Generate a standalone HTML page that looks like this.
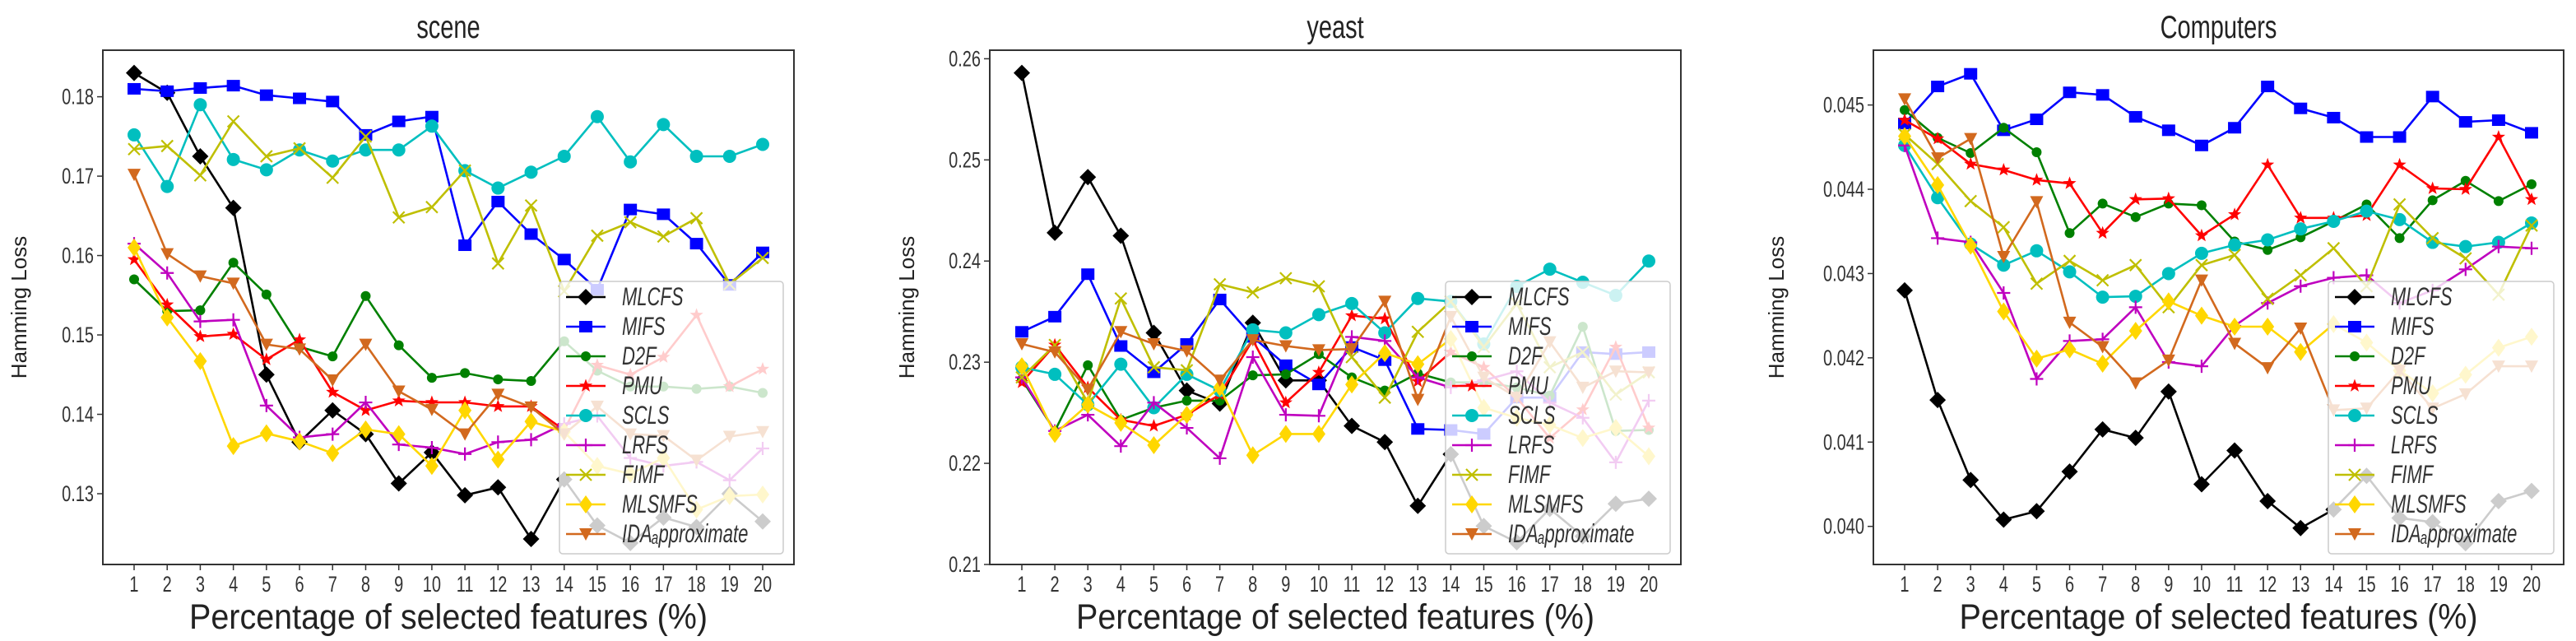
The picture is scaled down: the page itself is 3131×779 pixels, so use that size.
<!DOCTYPE html>
<html><head><meta charset="utf-8"><style>
html,body{margin:0;padding:0;background:#fff;}
svg{display:block;font-family:"Liberation Sans","DejaVu Sans",sans-serif;}
</style></head><body>
<svg id="fig" width="3131" height="779" viewBox="0 0 3131 779" xmlns="http://www.w3.org/2000/svg"></svg>
<script>
const xCategories = [1,2,3,4,5,6,7,8,9,10,11,12,13,14,15,16,17,18,19,20];
const seriesNames = ["MLCFS","MIFS","D2F","PMU","SCLS","LRFS","FIMF","MLSMFS","IDA\u2090pproximate"];
const panelTitles = ["scene","yeast","Computers"];
const sceneTicks = [0.13,0.14,0.15,0.16,0.17,0.18];
const sceneTickLabels = ["0.13","0.14","0.15","0.16","0.17","0.18"];
const yeastTicks = [0.21,0.22,0.23,0.24,0.25,0.26];
const yeastTickLabels = ["0.21","0.22","0.23","0.24","0.25","0.26"];
const compTicks = [0.040,0.041,0.042,0.043,0.044,0.045];
const compTickLabels = ["0.040","0.041","0.042","0.043","0.044","0.045"];

const sceneMLCFS = [0.183,0.1805,0.1725,0.166,0.145,0.1365,0.1405,0.1375,0.1313,0.1352,0.1298,0.1308,0.1243,0.1318,0.126,0.1238,0.127,0.1258,0.130,0.1265];
const sceneMIFS = [0.181,0.1807,0.1811,0.1814,0.1802,0.1798,0.1794,0.1752,0.1769,0.1775,0.1613,0.1668,0.1627,0.1595,0.1557,0.1658,0.1652,0.1615,0.1563,0.1604];
const sceneD2F = [0.157,0.153,0.1531,0.1591,0.1551,0.1485,0.1473,0.1549,0.1487,0.1446,0.1452,0.1444,0.1442,0.1492,0.1455,0.1435,0.1435,0.1432,0.1435,0.1427];
const scenePMU = [0.1595,0.1538,0.1498,0.1501,0.1469,0.1494,0.1428,0.1405,0.1417,0.1415,0.1415,0.141,0.141,0.138,0.1462,0.145,0.1472,0.1525,0.1435,0.1457];
const sceneSCLS = [0.1752,0.1687,0.179,0.1721,0.1708,0.1733,0.1719,0.1733,0.1733,0.1763,0.1707,0.1685,0.1705,0.1725,0.1775,0.1718,0.1765,0.1725,0.1725,0.174];
const sceneLRFS = [0.1615,0.1578,0.1517,0.1519,0.1411,0.1371,0.1375,0.1415,0.1362,0.1358,0.135,0.1365,0.1368,0.1388,0.1398,0.1345,0.1335,0.134,0.1317,0.1357];
const sceneFIMF = [0.1734,0.1738,0.1701,0.1769,0.1725,0.1735,0.1698,0.175,0.1648,0.1661,0.1707,0.159,0.1663,0.1555,0.1625,0.1642,0.1624,0.1647,0.1564,0.1597];
const sceneMLSMFS = [0.161,0.1522,0.1467,0.136,0.1376,0.1366,0.1351,0.1381,0.1375,0.1335,0.1405,0.1343,0.1391,0.1378,0.1335,0.1325,0.1345,0.128,0.1297,0.1299];
const sceneIDA = [0.1702,0.1602,0.1574,0.1565,0.1488,0.1482,0.1443,0.1488,0.1429,0.1406,0.1375,0.1425,0.1409,0.1375,0.141,0.1375,0.1373,0.1342,0.1372,0.1378];

const yeastMLCFS = [0.2586,0.2428,0.2483,0.2425,0.2329,0.2272,0.2259,0.2339,0.2282,0.2282,0.2237,0.2221,0.2158,0.2209,0.2138,0.2122,0.2155,0.2128,0.216,0.2165];
const yeastMIFS = [0.233,0.2345,0.2387,0.2316,0.229,0.2318,0.2362,0.2325,0.2297,0.2278,0.2315,0.2302,0.2234,0.2233,0.2229,0.2265,0.2265,0.231,0.2308,0.231];
const yeastD2F = [0.2283,0.2232,0.2297,0.2243,0.2255,0.2262,0.2262,0.2287,0.2288,0.2308,0.2285,0.2272,0.2289,0.228,0.228,0.2275,0.2267,0.2335,0.2232,0.2233];
const yeastPMU = [0.228,0.2317,0.2275,0.2243,0.2237,0.2248,0.2268,0.2322,0.226,0.229,0.2346,0.2343,0.2281,0.231,0.2295,0.2265,0.2225,0.2253,0.2315,0.2235];
const yeastSCLS = [0.2295,0.2288,0.2258,0.2298,0.2255,0.2288,0.2272,0.2332,0.2329,0.2347,0.2358,0.2329,0.2363,0.236,0.2318,0.2375,0.2392,0.2379,0.2366,0.24];
const yeastLRFS = [0.2285,0.2232,0.2248,0.2217,0.226,0.2235,0.2205,0.2305,0.2248,0.2247,0.2325,0.2321,0.2285,0.2275,0.2282,0.2291,0.226,0.2245,0.2201,0.2262];
const yeastFIMF = [0.2285,0.2317,0.226,0.2363,0.2295,0.2292,0.2377,0.2369,0.2383,0.2375,0.2305,0.2265,0.233,0.236,0.2315,0.2358,0.2295,0.231,0.2268,0.229];
const yeastMLSMFS = [0.2296,0.2229,0.2258,0.224,0.2218,0.2248,0.2275,0.2208,0.2229,0.2229,0.2278,0.2309,0.2298,0.2323,0.2255,0.2245,0.2238,0.2225,0.2235,0.2207];
const yeastIDA = [0.2318,0.231,0.2273,0.233,0.2318,0.2311,0.2282,0.2322,0.2316,0.2312,0.2313,0.236,0.2263,0.2345,0.2285,0.2265,0.232,0.2275,0.2291,0.229];

const compMLCFS = [0.0428,0.0415,0.04055,0.04008,0.04018,0.04065,0.04115,0.04105,0.0416,0.0405,0.0409,0.0403,0.03998,0.0402,0.0406,0.0401,0.04005,0.0398,0.0403,0.04042];
const compMIFS = [0.04478,0.04522,0.04537,0.0447,0.04483,0.04515,0.04512,0.04486,0.0447,0.04452,0.04473,0.04522,0.04496,0.04485,0.04462,0.04462,0.0451,0.0448,0.04482,0.04467];
const compD2F = [0.04494,0.04461,0.04443,0.04473,0.04444,0.04348,0.04383,0.04367,0.04383,0.04381,0.04338,0.04328,0.04343,0.04362,0.04382,0.04342,0.04387,0.0441,0.04386,0.04406];
const compPMU = [0.04482,0.0446,0.0443,0.04423,0.04411,0.04407,0.04348,0.04388,0.04389,0.04345,0.0437,0.04429,0.04366,0.04366,0.04369,0.04429,0.04401,0.044,0.04462,0.04388];
const compSCLS = [0.04452,0.0439,0.04335,0.0431,0.04327,0.04302,0.04272,0.04273,0.043,0.04324,0.04334,0.0434,0.04353,0.04362,0.04374,0.04364,0.04337,0.04332,0.04337,0.0436];
const compLRFS = [0.04452,0.04342,0.04337,0.04277,0.04175,0.0422,0.04222,0.0426,0.04195,0.0419,0.04238,0.04265,0.04285,0.04295,0.04298,0.04265,0.0428,0.04305,0.04332,0.0433];
const compFIMF = [0.04465,0.0443,0.04386,0.04355,0.04288,0.04315,0.04292,0.0431,0.0426,0.0431,0.04322,0.0427,0.04298,0.0433,0.04285,0.04382,0.04342,0.04318,0.04275,0.04357];
const compMLSMFS = [0.04463,0.04405,0.04333,0.04255,0.04199,0.0421,0.04193,0.04232,0.04267,0.0425,0.04237,0.04237,0.04207,0.0424,0.04218,0.04185,0.04158,0.0418,0.04212,0.04225];
const compIDA = [0.04507,0.04437,0.0446,0.0432,0.04385,0.04242,0.04213,0.0417,0.04197,0.04292,0.04217,0.04188,0.04235,0.04138,0.0414,0.04185,0.0414,0.04157,0.0419,0.0419];

const NS = "http://www.w3.org/2000/svg";
const svg = document.getElementById("fig");
function mk(tag, attrs, parent){
  const e = document.createElementNS(NS, tag);
  for (const k in attrs) e.setAttribute(k, attrs[k]);
  (parent||svg).appendChild(e);
  return e;
}
function stretch(el, x, y, s){
  el.setAttribute("transform", `translate(${x},${y}) scale(1,${s}) translate(${-x},${-y})`);
}
const styles = [
  {c:"#000000", m:"D"},{c:"#0000ff", m:"s"},{c:"#008000", m:"o"},{c:"#ff0000", m:"*"},
  {c:"#00bfbf", m:"O"},{c:"#bf00bf", m:"+"},{c:"#bfbf00", m:"x"},{c:"#ffd700", m:"d"},{c:"#d2691e", m:"v"}
];
function marker(g, type, x, y, color){
  let e;
  if (type==="D") e = mk("polygon",{points:`${x},${y-10} ${x+10},${y} ${x},${y+10} ${x-10},${y}`,fill:color},g);
  else if (type==="s") e = mk("rect",{x:x-8,y:y-7,width:16,height:14,fill:color},g);
  else if (type==="o") e = mk("circle",{cx:x,cy:y,r:6,fill:color},g);
  else if (type==="O") e = mk("circle",{cx:x,cy:y,r:8,fill:color},g);
  else if (type==="*") {
    let p=[]; for(let i=0;i<10;i++){const a=-Math.PI/2+i*Math.PI/5; const r=i%2?3.5:8.5; p.push((x+r*Math.cos(a)).toFixed(1)+","+(y+r*Math.sin(a)).toFixed(1));}
    e = mk("polygon",{points:p.join(" "),fill:color},g);
  }
  else if (type==="+") e = mk("path",{d:`M${x-8},${y}H${x+8}M${x},${y-8}V${y+8}`,stroke:color,"stroke-width":2.2,fill:"none"},g);
  else if (type==="x") e = mk("path",{d:`M${x-7},${y-7}L${x+7},${y+7}M${x-7},${y+7}L${x+7},${y-7}`,stroke:color,"stroke-width":2.2,fill:"none"},g);
  else if (type==="d") e = mk("polygon",{points:`${x},${y-11} ${x+8},${y} ${x},${y+11} ${x-8},${y}`,fill:color},g);
  else if (type==="v") e = mk("polygon",{points:`${x-8},${y-7} ${x+8},${y-7} ${x},${y+8}`,fill:color},g);
  return e;
}
const panels = [
  {key:"scene", data:[sceneMLCFS,sceneMIFS,sceneD2F,scenePMU,sceneSCLS,sceneLRFS,sceneFIMF,sceneMLSMFS,sceneIDA], ticks:sceneTicks, labels:sceneTickLabels,
   L:125,R:965,T:61,B:686,x1:163,x20:927,v0:0.13,p0:600,v1:0.18,p1:117.6, ylab:32, leg:[680,952]},
  {key:"yeast", data:[yeastMLCFS,yeastMIFS,yeastD2F,yeastPMU,yeastSCLS,yeastLRFS,yeastFIMF,yeastMLSMFS,yeastIDA], ticks:yeastTicks, labels:yeastTickLabels,
   L:1203,R:2043,T:61,B:686,x1:1242,x20:2004,v0:0.21,p0:686,v1:0.26,p1:71.4, ylab:1111, leg:[1757,2030]},
  {key:"computers", data:[compMLCFS,compMIFS,compD2F,compPMU,compSCLS,compLRFS,compFIMF,compMLSMFS,compIDA], ticks:compTicks, labels:compTickLabels,
   L:2277,R:3116,T:61,B:686,x1:2315,x20:3077,v0:0.040,p0:639.7,v1:0.045,p1:127.6, ylab:2168, leg:[2830,3104]}
];
panels.forEach((P, pi) => {
  const xAt = v => P.x1 + (v - xCategories[0]) * (P.x20 - P.x1) / (xCategories[xCategories.length-1] - xCategories[0]);
  const yAt = v => P.p0 + (v - P.v0) * (P.p1 - P.p0) / (P.v1 - P.v0);
  const g = mk("g",{});
  
  
  const cid = "clip"+pi;
  const cp = mk("clipPath",{id:cid},g); mk("rect",{x:P.L,y:P.T,width:P.R-P.L,height:P.B-P.T},cp);
  const tx0 = (P.L+P.R)/2;
  const t = mk("text",{x:tx0,y:46,"text-anchor":"middle","font-size":29,fill:"#222"},g);
  t.textContent = panelTitles[pi];
  
  
  stretch(t, tx0, 46, 1.35);
  xCategories.forEach(c => {
    const x = xAt(c);
    mk("line",{x1:x,x2:x,y1:P.B,y2:P.B+7,stroke:"#333","stroke-width":1.5},g);
    const tl = mk("text",{x:x,y:P.B+33,"text-anchor":"middle","font-size":20,fill:"#333"},g);
    tl.textContent = String(c);
    
    
    stretch(tl, x, P.B+33, 1.35);
  });
  P.ticks.forEach((v,i) => {
    const y = yAt(v);
    mk("line",{x1:P.L-7,x2:P.L,y1:y,y2:y,stroke:"#333","stroke-width":1.5},g);
    const tl = mk("text",{x:P.L-11,y:y+9,"text-anchor":"end","font-size":20,fill:"#333"},g);
    tl.textContent = P.labels[i];
    
    
    stretch(tl, P.L-11, y+9, 1.35);
  });
  const xl = mk("text",{x:tx0,y:764,"text-anchor":"middle","font-size":33,fill:"#222",textLength:630,lengthAdjust:"spacingAndGlyphs"},g);
  xl.textContent = "Percentage of selected features (%)";
  
  
  stretch(xl, tx0, 764, 1.3);
  const yl = mk("text",{x:0,y:0,"text-anchor":"middle","font-size":26,fill:"#222",transform:`translate(${P.ylab},${(P.T+P.B)/2}) rotate(-90)`},g);
  yl.textContent = "Hamming Loss";
  
  
  const sg = mk("g",{"clip-path":`url(#${cid})`},g);
  P.data.forEach((arr, si) => {
    const st = styles[si];
    const s = mk("g",{},sg);
    
    
    const pts = arr.map((v,i)=> xAt(xCategories[i]).toFixed(1)+","+yAt(v).toFixed(1)).join(" ");
    mk("polyline",{points:pts,fill:"none",stroke:st.c,"stroke-width":2.6,"stroke-linejoin":"round"},s);
    arr.forEach((v,i) => {
      const m = marker(s, st.m, xAt(xCategories[i]), yAt(v), st.c);
      
      
    });
  });
  mk("rect",{x:P.L,y:P.T,width:P.R-P.L,height:P.B-P.T,fill:"none",stroke:"#333","stroke-width":2},g);
  const lg = mk("g",{},g);
  
  
  mk("rect",{x:P.leg[0],y:342,width:P.leg[1]-P.leg[0],height:331,rx:4,fill:"#fff","fill-opacity":0.8,stroke:"#ccc","stroke-width":1.5},lg);
  seriesNames.forEach((n, si) => {
    const y = 361 + si*36;
    const x0 = P.leg[0]+8, x1 = x0+48;
    const e = mk("g",{},lg);
    
    
    mk("line",{x1:x0,x2:x1,y1:y,y2:y,stroke:styles[si].c,"stroke-width":2.6},e);
    marker(e, styles[si].m, (x0+x1)/2, y, styles[si].c);
    const tx = mk("text",{x:x1+20,y:y+10,"font-size":22,"font-style":"italic",fill:"#333"},e);
    tx.textContent = n;
    stretch(tx, x1+20, y+10, 1.45);
  });
});
</script>
</body></html>
